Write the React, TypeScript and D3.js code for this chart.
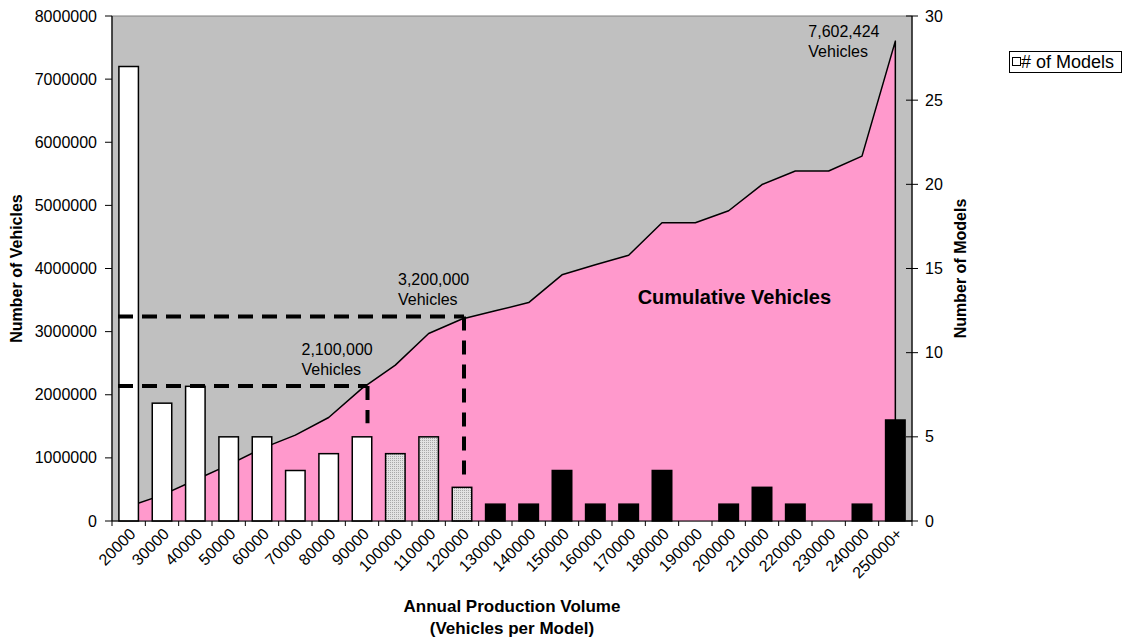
import React from "react";
import * as d3 from "d3";

const categories = [
  "20000", "30000", "40000", "50000", "60000", "70000", "80000", "90000",
  "100000", "110000", "120000", "130000", "140000", "150000", "160000",
  "170000", "180000", "190000", "200000", "210000", "220000", "230000",
  "240000", "250000+",
];
const modelCounts = [27, 7, 8, 5, 5, 3, 4, 5, 4, 5, 2, 1, 1, 3, 1, 1, 3, 0, 1, 2, 1, 0, 1, 6];
const cumulativeVehicles = [
  230000, 410000, 650000, 890000, 1150000, 1360000, 1640000, 2100000,
  2470000, 2970000, 3200000, 3330000, 3460000, 3900000, 4060000, 4210000,
  4725000, 4725000, 4915000, 5330000, 5545000, 5545000, 5780000, 7602424,
];
const leftTicks = [0, 1000000, 2000000, 3000000, 4000000, 5000000, 6000000, 7000000, 8000000];
const rightTicks = [0, 5, 10, 15, 20, 25, 30];
const guideCategories = ["90000", "120000"];
const guideValues = [2140000, 3240000];
const guideLabels = ["2,100,000", "3,200,000"];
const guideStopModels = [5.8, 2.7];
const totalLabel = "7,602,424";

const W = 1123;
const H = 641;
const M = { left: 112, right: 912, top: 16, bottom: 521 };
const FONT = "'Liberation Sans', Arial, Helvetica, sans-serif";

export default function App() {
  const x = d3.scaleBand<string>().domain(categories).range([M.left, M.right]).padding(0);
  const step = x.bandwidth();
  const cx = (c: string) => (x(c) as number) + step / 2;
  const yL = d3.scaleLinear().domain([0, 8000000]).range([M.bottom, M.top]);
  const yR = d3.scaleLinear().domain([0, 30]).range([M.bottom, M.top]);
  const barW = step * 0.585;

  const pts = categories.map((c, i) => [cx(c), cumulativeVehicles[i]] as [number, number]);
  const area = d3
    .area<[number, number]>()
    .x((d) => d[0])
    .y0(yL(0))
    .y1((d) => yL(d[1]))(pts) as string;
  const outline = d3
    .line<[number, number]>()
    .x((d) => d[0])
    .y((d) => d[1])([
      [pts[0][0], yL(0)],
      ...pts.map((p) => [p[0], yL(p[1])] as [number, number]),
      [pts[pts.length - 1][0], yL(0)],
    ]) as string;

  const whiteEnd = categories.indexOf(guideCategories[0]);
  const dottedEnd = categories.indexOf(guideCategories[1]);
  const guideShift = [5.5, 2];

  const last = pts[pts.length - 1];
  const lastX = last[0];
  const lastY = yL(last[1]);

  return (
    <svg
      width={W}
      height={H}
      style={{ position: "absolute", left: 0, top: 0, background: "#fff" }}
      fontFamily={FONT}
    >
      <defs>
        <pattern id="dots" width="2" height="2" patternUnits="userSpaceOnUse">
          <rect width="2" height="2" fill="#E2E2E2" />
          <rect width="1" height="1" fill="#A8A8A8" />
        </pattern>
      </defs>
      <rect
        x={M.left}
        y={M.top}
        width={M.right - M.left}
        height={M.bottom - M.top}
        fill="#C0C0C0"
        stroke="#808080"
        strokeWidth={1}
      />
      <path d={area} fill="#FF99CC" />
      <path d={outline} fill="none" stroke="#000" strokeWidth={1.5} strokeLinejoin="round" />

      {categories.map((c, i) => {
        const v = modelCounts[i];
        if (v <= 0) return null;
        const fill = i <= whiteEnd ? "#FFFFFF" : i <= dottedEnd ? "url(#dots)" : "#000000";
        return (
          <rect
            key={c}
            x={cx(c) - barW / 2}
            y={yR(v)}
            width={barW}
            height={yR(0) - yR(v)}
            fill={fill}
            stroke="#000"
            strokeWidth={1.5}
          />
        );
      })}

      {/* axes */}
      <line x1={M.left} y1={M.top} x2={M.left} y2={M.bottom} stroke="#000" strokeWidth={1.2} />
      <line x1={M.right} y1={M.top} x2={M.right} y2={M.bottom} stroke="#000" strokeWidth={1.2} />
      <line x1={M.left} y1={M.bottom} x2={M.right} y2={M.bottom} stroke="#000" strokeWidth={1.2} />
      {leftTicks.map((t) => (
        <g key={"l" + t}>
          <line x1={M.left - 7} x2={M.left} y1={yL(t)} y2={yL(t)} stroke="#000" strokeWidth={1} />
          <text x={M.left - 15} y={yL(t)} dy="0.35em" textAnchor="end" fontSize={16}>
            {t}
          </text>
        </g>
      ))}
      {rightTicks.map((t) => (
        <g key={"r" + t}>
          <line x1={M.right - 6} x2={M.right + 6} y1={yR(t)} y2={yR(t)} stroke="#000" strokeWidth={1} />
          <text x={M.right + 13} y={yR(t)} dy="0.35em" textAnchor="start" fontSize={16}>
            {t}
          </text>
        </g>
      ))}
      {categories.map((c) => (
        <line
          key={"xt" + c}
          x1={x(c) as number}
          x2={x(c) as number}
          y1={M.bottom}
          y2={M.bottom + 5}
          stroke="#000"
          strokeWidth={1}
        />
      ))}
      <line x1={M.right} x2={M.right} y1={M.bottom} y2={M.bottom + 5} stroke="#000" />
      {categories.map((c) => (
        <text
          key={"xl" + c}
          transform={`translate(${cx(c) + 4},${M.bottom + 10}) rotate(-45)`}
          textAnchor="end"
          dy="0.35em"
          fontSize={16}
        >
          {c}
        </text>
      ))}

      {/* guide lines */}
      {guideCategories.map((c, k) => {
        const gx = cx(c) + guideShift[k];
        const gy = yL(guideValues[k]);
        return (
          <g key={"g" + c}>
            <line
              x1={M.left + 6}
              x2={gx}
              y1={gy}
              y2={gy}
              stroke="#000"
              strokeWidth={4}
              strokeDasharray="15 9"
            />
            <line
              x1={gx}
              x2={gx}
              y1={gy}
              y2={yR(guideStopModels[k])}
              stroke="#000"
              strokeWidth={4}
              strokeDasharray="14 10"
            />
            <text x={gx - 66} y={gy - 31} fontSize={16}>
              {guideLabels[k]}
            </text>
            <text x={gx - 66} y={gy - 11} fontSize={16}>
              Vehicles
            </text>
          </g>
        );
      })}
      <text x={lastX - 87} y={lastY - 4} fontSize={16}>
        {totalLabel}
      </text>
      <text x={lastX - 87} y={lastY + 16} fontSize={16}>
        Vehicles
      </text>
      <text x={cx("170000") + 9} y={yL(3440000)} fontSize={20} fontWeight="bold">
        Cumulative Vehicles
      </text>

      {/* axis titles */}
      <text
        transform={`translate(22,${(M.top + M.bottom) / 2}) rotate(-90)`}
        textAnchor="middle"
        fontSize={16}
        fontWeight="bold"
      >
        Number of Vehicles
      </text>
      <text
        transform={`translate(966,${(M.top + M.bottom) / 2}) rotate(-90)`}
        textAnchor="middle"
        fontSize={16}
        fontWeight="bold"
      >
        Number of Models
      </text>
      <text x={(M.left + M.right) / 2} y={612} textAnchor="middle" fontSize={17} fontWeight="bold">
        Annual Production Volume
      </text>
      <text x={(M.left + M.right) / 2} y={634} textAnchor="middle" fontSize={17} fontWeight="bold">
        (Vehicles per Model)
      </text>

      {/* legend */}
      <rect x={1009.5} y={51.5} width={112} height={21} fill="#fff" stroke="#000" strokeWidth={1} />
      <rect x={1012.5} y={57.5} width={8} height={8} fill="#fff" stroke="#000" strokeWidth={1} />
      <text x={1021} y={62} dy="0.35em" fontSize={18}>
        # of Models
      </text>
    </svg>
  );
}
